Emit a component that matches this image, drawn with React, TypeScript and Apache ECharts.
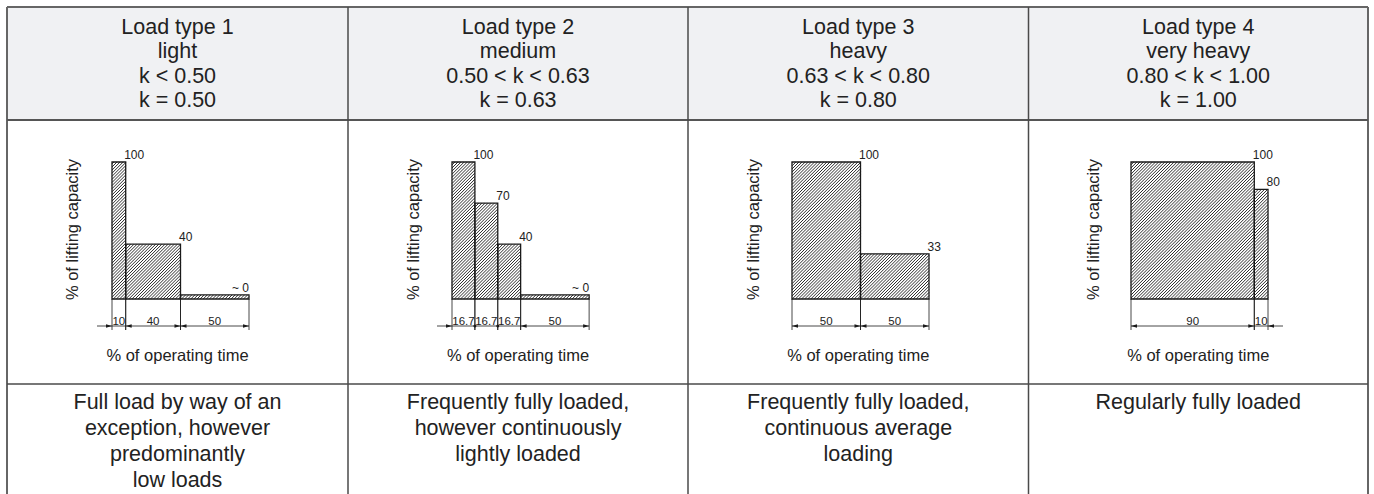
import React, { useEffect, useRef } from "react";
import * as echarts from "echarts";

// ---------- data ----------
const loadTypes = ["Load type 1", "Load type 2", "Load type 3", "Load type 4"];
const loadNames = ["light", "medium", "heavy", "very heavy"];
const kRanges = ["k < 0.50", "0.50 < k < 0.63", "0.63 < k < 0.80", "0.80 < k < 1.00"];
const kValues = ["k = 0.50", "k = 0.63", "k = 0.80", "k = 1.00"];
const descriptions = [
  ["Full load by way of an", "exception, however", "predominantly", "low loads"],
  ["Frequently fully loaded,", "however continuously", "lightly loaded"],
  ["Frequently fully loaded,", "continuous average", "loading"],
  ["Regularly fully loaded"],
];
const timeShares = [
  [10, 40, 50],
  [16.7, 16.7, 16.7, 50],
  [50, 50],
  [90, 10],
];
const capacities = [
  [100, 40, 3],
  [100, 70, 40, 3],
  [100, 33],
  [100, 80],
];
const capacityLabels = [
  ["100", "40", "~ 0"],
  ["100", "70", "40", "~ 0"],
  ["100", "33"],
  ["100", "80"],
];
const timeLabels = [
  ["10", "40", "50"],
  ["16.7", "16.7", "16.7", "50"],
  ["50", "50"],
  ["90", "10"],
];
const yAxisTitle = "% of lifting capacity";
const xAxisTitle = "% of operating time";

// ---------- layout ----------
const W = 1374;
const H = 494;
const COL_X = [7, 348, 688, 1028.5, 1368];
const TABLE_TOP = 7;
const HEADER_BOTTOM = 120;
const ROW2_BOTTOM = 384;
const GRID_LEFT = [112, 452, 792, 1131];
const GRID_TOP = 162;
const GRID_SIZE = 137;
const FONT = "'Liberation Sans', Arial, Helvetica, sans-serif";
const TEXT = "#222";
const INK = "#1a1a1a";

function buildOption() {
  const grids: any[] = [];
  const xAxes: any[] = [];
  const yAxes: any[] = [];
  const series: any[] = [];
  const graphics: any[] = [];

  // table background + lines
  graphics.push({
    type: "rect",
    shape: { x: COL_X[0], y: TABLE_TOP, width: COL_X[4] - COL_X[0], height: HEADER_BOTTOM - TABLE_TOP },
    style: { fill: "#f0f1f3" },
    z: -10,
  });
  const lineStyle = { stroke: "#4a4a4a", lineWidth: 1.5 };
  const outerStyle = { stroke: "#666", lineWidth: 2 };
  graphics.push({ type: "line", shape: { x1: COL_X[0], y1: TABLE_TOP, x2: COL_X[4], y2: TABLE_TOP }, style: outerStyle });
  graphics.push({ type: "line", shape: { x1: COL_X[0], y1: TABLE_TOP, x2: COL_X[0], y2: H }, style: outerStyle });
  graphics.push({ type: "line", shape: { x1: COL_X[4], y1: TABLE_TOP, x2: COL_X[4], y2: H }, style: outerStyle });
  graphics.push({ type: "line", shape: { x1: COL_X[0], y1: HEADER_BOTTOM, x2: COL_X[4], y2: HEADER_BOTTOM }, style: { stroke: "#555", lineWidth: 1.8 } });
  graphics.push({ type: "line", shape: { x1: COL_X[0], y1: ROW2_BOTTOM, x2: COL_X[4], y2: ROW2_BOTTOM }, style: lineStyle });
  for (let c = 1; c < 4; c++) {
    graphics.push({ type: "line", shape: { x1: COL_X[c], y1: TABLE_TOP, x2: COL_X[c], y2: H }, style: lineStyle });
  }

  for (let p = 0; p < 4; p++) {
    const cx = (COL_X[p] + COL_X[p + 1]) / 2;
    const header = [loadTypes[p], loadNames[p], kRanges[p], kValues[p]];
    header.forEach((t, i) => {
      graphics.push({
        type: "text",
        x: cx,
        y: 26.5 + i * 24.6,
        style: { text: t, font: `21.5px ${FONT}`, fill: TEXT, align: "center", verticalAlign: "middle" },
      });
    });
    descriptions[p].forEach((t, i) => {
      graphics.push({
        type: "text",
        x: cx,
        y: 401.5 + i * 26,
        style: { text: t, font: `21.5px ${FONT}`, fill: TEXT, align: "center", verticalAlign: "middle" },
      });
    });
    graphics.push({
      type: "text",
      x: COL_X[p] + 64.5,
      y: GRID_TOP + GRID_SIZE / 2 - 1,
      rotation: Math.PI / 2,
      style: { text: yAxisTitle, font: `16.5px ${FONT}`, fill: TEXT, align: "center", verticalAlign: "middle" },
    });
    graphics.push({
      type: "text",
      x: cx,
      y: 355,
      style: { text: xAxisTitle, font: `16.5px ${FONT}`, fill: TEXT, align: "center", verticalAlign: "middle" },
    });

    grids.push({ left: GRID_LEFT[p], top: GRID_TOP, width: GRID_SIZE, height: GRID_SIZE, show: false });
    xAxes.push({ type: "value", gridIndex: p, min: 0, max: 100, show: false });
    yAxes.push({ type: "value", gridIndex: p, min: 0, max: 100, show: false });

    const shares = timeShares[p];
    const data: number[][] = [];
    let acc = 0;
    shares.forEach((s, i) => {
      data.push([acc, acc + s, capacities[p][i], i]);
      acc += s;
    });

    series.push({
      type: "custom",
      xAxisIndex: p,
      yAxisIndex: p,
      clip: false,
      data,
      renderItem: (params: any, api: any) => {
        const i = api.value(3);
        const p0 = api.coord([api.value(0), 0]);
        const p1 = api.coord([api.value(1), api.value(2)]);
        const left = p0[0];
        const right = p1[0];
        const bottom = p0[1];
        const top = p1[1];
        const children: any[] = [];
        // hatch
        const s = 3.1;
        const cStart = Math.ceil((left + top) / s) * s;
        for (let c = cStart; c < right + bottom; c += s) {
          const xa = Math.max(left, c - bottom);
          const xb = Math.min(right, c - top);
          if (xb > xa + 0.2) {
            children.push({
              type: "line",
              shape: { x1: xa, y1: c - xa, x2: xb, y2: c - xb },
              style: { stroke: "#222", lineWidth: 0.95 },
              silent: true,
            });
          }
        }
        children.push({
          type: "rect",
          shape: { x: left, y: top, width: right - left, height: bottom - top },
          style: { fill: "none", stroke: INK, lineWidth: 1.3 },
        });
        // value label
        const lab = capacityLabels[p][i];
        const isApprox = lab.indexOf("~") >= 0;
        children.push({
          type: "text",
          x: isApprox ? right : right - 1.5,
          y: top - 7,
          style: {
            text: lab,
            font: `12px ${FONT}`,
            fill: TEXT,
            align: isApprox ? "right" : "left",
            verticalAlign: "middle",
          },
        });
        // dimension chain
        const dimY = bottom + 27;
        const extEnd = bottom + 31;
        const thin = { stroke: INK, lineWidth: 0.8 };
        children.push({ type: "line", shape: { x1: left, y1: bottom, x2: left, y2: extEnd }, style: thin });
        children.push({ type: "line", shape: { x1: right, y1: bottom, x2: right, y2: extEnd }, style: thin });
        children.push({ type: "line", shape: { x1: left, y1: dimY, x2: right, y2: dimY }, style: thin });
        const arrow = (tx: number, d: number) => ({
          type: "polygon",
          shape: { points: [[tx, dimY], [tx - d * 6, dimY - 1.8], [tx - d * 6, dimY + 1.8]] },
          style: { fill: INK },
        });
        const n = shares.length;
        const widthPx = (k: number) => (shares[k] / 100) * GRID_SIZE;
        const narrow = widthPx(i) < 26;
        if (!narrow) {
          children.push(arrow(left, -1));
          children.push(arrow(right, 1));
        } else {
          if (i === 0) {
            children.push({ type: "line", shape: { x1: left - 15, y1: dimY, x2: left, y2: dimY }, style: thin });
            children.push(arrow(left, 1));
          } else if (widthPx(i - 1) < 26) {
            children.push({ type: "circle", shape: { cx: left, cy: dimY, r: 1.5 }, style: { fill: INK } });
          }
          if (i === n - 1) {
            children.push({ type: "line", shape: { x1: right, y1: dimY, x2: right + 15, y2: dimY }, style: thin });
            children.push(arrow(right, -1));
          }
        }
        children.push({
          type: "text",
          x: (left + right) / 2,
          y: dimY - 5.5,
          style: { text: timeLabels[p][i], font: `11.5px ${FONT}`, fill: TEXT, align: "center", verticalAlign: "middle" },
        });
        return { type: "group", children };
      },
    });
  }

  return {
    animation: false,
    backgroundColor: "#ffffff",
    grid: grids,
    xAxis: xAxes,
    yAxis: yAxes,
    series,
    graphic: { elements: graphics },
  };
}

export default function App() {
  const ref = useRef<HTMLDivElement>(null);
  useEffect(() => {
    document.body.style.margin = "0";
    const chart = echarts.init(ref.current as HTMLDivElement, undefined, { renderer: "svg", width: W, height: H });
    chart.setOption(buildOption() as any);
    return () => chart.dispose();
  }, []);
  return <div ref={ref} style={{ width: W, height: H }} />;
}
